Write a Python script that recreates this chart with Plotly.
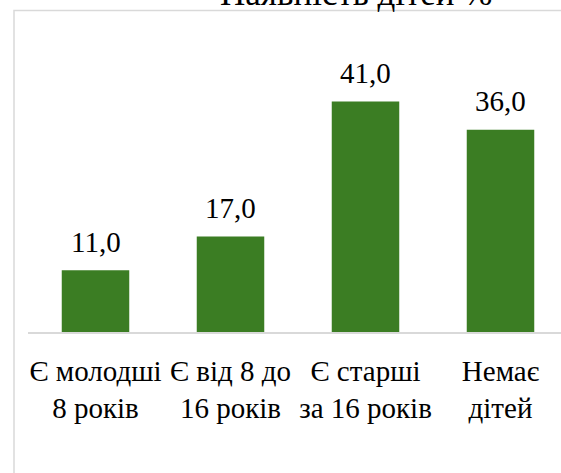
import plotly.graph_objects as go

categories = ["Є молодші<br>8 років", "Є від 8 до<br>16 років", "Є старші<br>за 16 років", "Немає<br>дітей"]
values = [11.0, 17.0, 41.0, 36.0]
value_labels = ["11,0", "17,0", "41,0", "36,0"]
title_text = "Наявність дітей %"

BAR_COLOR = "#3B7D23"
BORDER_COLOR = "#D9D9D9"
FONT = "Liberation Serif"

W, H = 561, 473
M_L, M_R, M_T, M_B = 28, 0, 51, 141

fig = go.Figure()
fig.add_trace(go.Bar(
    x=list(range(len(categories))),
    y=values,
    width=0.5,
    marker=dict(color=BAR_COLOR, line=dict(width=0)),
    hoverinfo="skip",
))

# data labels above each bar
for i, (v, lab) in enumerate(zip(values, value_labels)):
    fig.add_annotation(
        x=i, y=v, text=lab, showarrow=False,
        xanchor="center", yanchor="bottom", yshift=10.5,
        font=dict(family=FONT, size=29, color="#000000"),
    )

plot_w = W - M_L - M_R
plot_h = H - M_T - M_B

# chart title, cut off by the top edge like in the source
fig.add_annotation(
    xref="paper", yref="paper",
    x=(356 - M_L) / plot_w, y=(H - M_B - 15) / plot_h,
    text=title_text, showarrow=False,
    xanchor="center", yanchor="bottom",
    font=dict(family=FONT, size=35, color="#000000"),
)

# chart area border
fig.add_shape(
    type="rect", xref="paper", yref="paper",
    x0=(14 - M_L) / plot_w, x1=1.1,
    y0=-0.6, y1=(H - M_B - 10.5) / plot_h,
    line=dict(color=BORDER_COLOR, width=1.5),
    fillcolor="rgba(0,0,0,0)", layer="below",
)

fig.update_layout(
    width=W, height=H,
    margin=dict(l=M_L, r=M_R, t=M_T, b=M_B, pad=0),
    paper_bgcolor="white", plot_bgcolor="white",
    showlegend=False,
    font=dict(family=FONT, size=29, color="#000000"),
    bargap=0.5,
)
fig.update_xaxes(
    range=[-0.5, -0.5 + plot_w / 135.0],
    tickmode="array",
    tickvals=list(range(len(categories))),
    ticktext=categories,
    showline=True, linecolor=BORDER_COLOR, linewidth=1.5,
    showgrid=False, zeroline=False, ticks="",
    tickfont=dict(family=FONT, size=29, color="#000000"),
    tickangle=0,
    ticklabelstandoff=12,
)
fig.update_yaxes(
    range=[0, 50],
    showticklabels=False, showgrid=False, zeroline=False, showline=False,
)

fig.write_html(
    "out.html",
    config={"displayModeBar": False},
    post_script=(
        "document.body.style.margin='0';"
        "document.body.style.overflow='hidden';"
        "document.documentElement.style.overflow='hidden';"
    ),
)
